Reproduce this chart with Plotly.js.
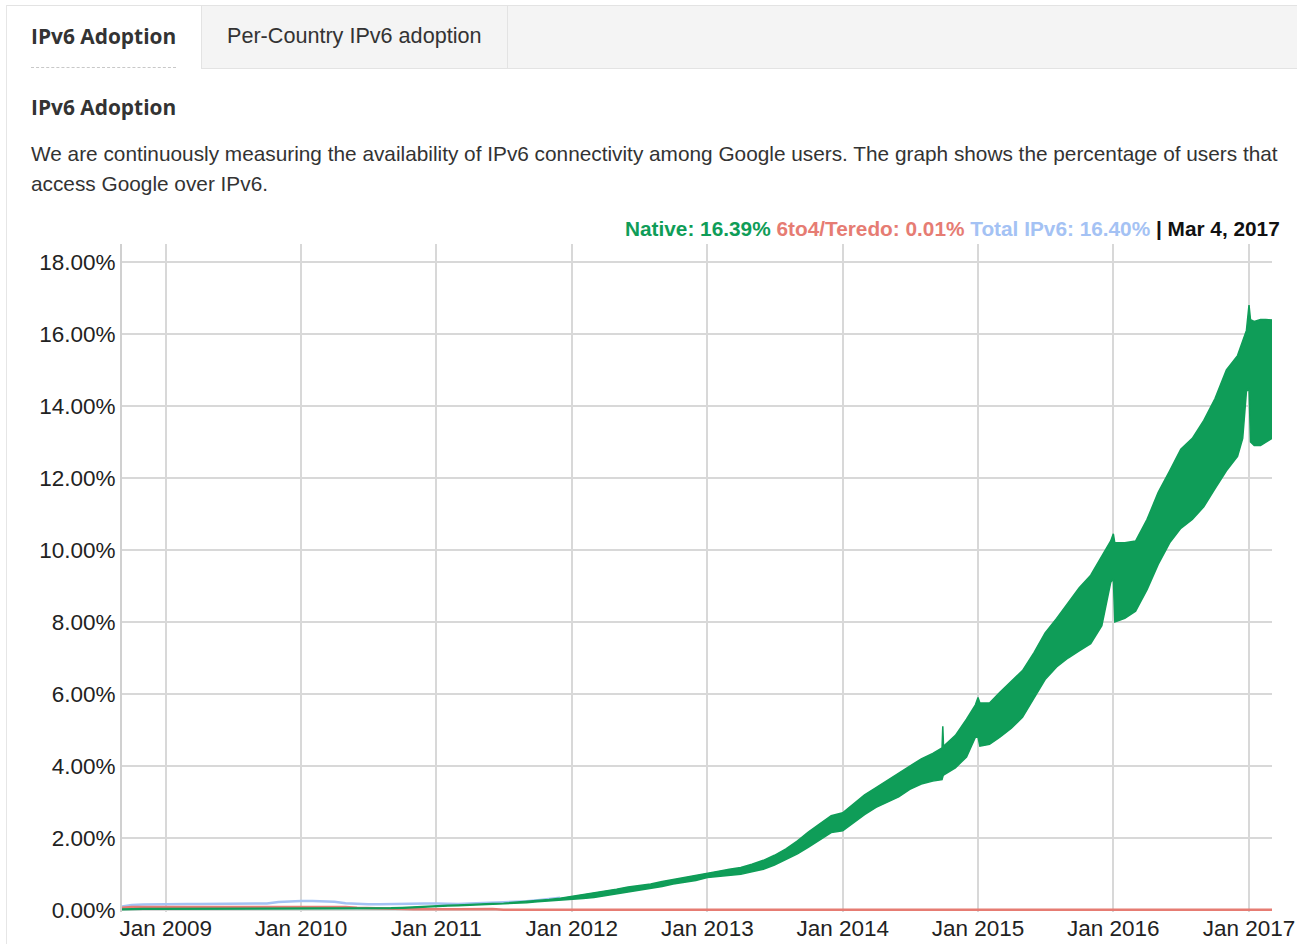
<!DOCTYPE html>
<html><head><meta charset="utf-8">
<script src="https://cdn.plot.ly/plotly-3.0.1.min.js"></script>
<style>
body{margin:0;width:1297px;height:944px;overflow:hidden;background:#fff;position:relative;font-family:"Liberation Sans",Arial,sans-serif;color:#333}
#chart{position:absolute;left:0;top:0;width:1297px;height:944px}
.abs{position:absolute}
.frame{left:6px;top:5px;height:939px;width:1px;background:#e6e6e6}
.tabbar{left:7px;top:5px;width:1290px;height:62px;background:#f4f4f4;border-top:1px solid #e3e3e3;border-bottom:1px solid #e3e3e3}
.tab1{left:7px;top:6px;width:194px;height:63px;background:#fff;border-right:1px solid #e3e3e3}
.tab2r{left:507px;top:6px;width:1px;height:62px;background:#e3e3e3}
.t1{left:31px;top:21px;line-height:30px;font-family:"Open Sans",sans-serif;font-weight:700;font-size:20.9px;color:#333;white-space:nowrap}
.t2{left:227px;top:21px;line-height:30px;font-size:21.6px;color:#333;white-space:nowrap}
.dash{left:31px;top:67px;width:145px;height:0;border-top:1px dashed #c8c8c8}
.h2{left:31px;top:92px;line-height:30px;font-family:"Open Sans",sans-serif;font-weight:700;font-size:20.9px;color:#333;white-space:nowrap}
.desc{left:31px;top:139px;line-height:30px;font-size:20.8px;color:#333;white-space:nowrap}
</style></head><body>
<div id="chart"></div>
<div class="abs frame"></div>
<div class="abs tabbar"></div>
<div class="abs tab1"></div>
<div class="abs tab2r"></div>
<div class="abs t1">IPv6 Adoption</div>
<div class="abs t2">Per-Country IPv6 adoption</div>
<div class="abs dash"></div>
<div class="abs h2">IPv6 Adoption</div>
<div class="abs desc">We are continuously measuring the availability of IPv6 connectivity among Google users. The graph shows the percentage of users that<br>access Google over IPv6.</div>
<script>
// Native IPv6 (weekday low / weekend high envelope), percent
const nativeDates = [
'2008-09-05','2008-10-01','2008-11-01','2008-12-01',
'2009-01-01','2009-02-01','2009-03-01','2009-04-01','2009-05-01','2009-06-01','2009-07-01','2009-08-01','2009-09-01','2009-10-01','2009-11-01','2009-12-01',
'2010-01-01','2010-02-01','2010-03-01','2010-04-01','2010-05-01','2010-06-01','2010-07-01','2010-08-01','2010-09-01','2010-10-01','2010-11-01','2010-12-01',
'2011-01-01','2011-02-01','2011-03-01','2011-04-01','2011-05-01','2011-06-01','2011-07-01','2011-08-01','2011-09-01','2011-10-01','2011-11-01','2011-12-01',
'2012-01-01','2012-02-01','2012-03-01','2012-04-01','2012-05-01','2012-06-01','2012-07-01','2012-08-01','2012-09-01','2012-10-01','2012-11-01','2012-12-01',
'2013-01-01','2013-02-01','2013-03-01','2013-04-01','2013-05-01','2013-06-01','2013-07-01','2013-08-01','2013-09-01','2013-10-01','2013-11-01','2013-12-01',
'2014-01-01','2014-02-01','2014-03-01','2014-04-01','2014-05-01','2014-06-01','2014-07-01','2014-08-01','2014-09-01','2014-09-26','2014-09-28','2014-09-30','2014-11-01','2014-12-01','2014-12-25',
'2015-01-01','2015-01-06','2015-02-01','2015-03-01','2015-04-01','2015-05-01','2015-06-01','2015-07-01','2015-08-01','2015-09-01','2015-10-01','2015-11-01','2015-12-01','2015-12-25',
'2016-01-01','2016-01-05','2016-02-01','2016-03-01','2016-04-01','2016-05-01','2016-06-01','2016-07-01','2016-08-01','2016-09-01','2016-10-01','2016-11-01','2016-12-01','2016-12-15','2016-12-25',
'2017-01-01','2017-01-05','2017-01-15','2017-02-01','2017-02-15','2017-03-04'
];
const nativeLow = [
0.01,0.02,0.02,0.02,
0.02,0.02,0.02,0.02,0.02,0.02,0.02,0.02,0.02,0.02,0.02,0.03,
0.03,0.03,0.03,0.03,0.03,0.03,0.03,0.03,0.04,0.05,0.07,0.09,
0.10,0.11,0.12,0.13,0.14,0.15,0.16,0.18,0.20,0.23,0.25,0.28,
0.30,0.32,0.35,0.40,0.45,0.50,0.55,0.60,0.65,0.72,0.77,0.82,
0.90,0.93,0.96,0.99,1.06,1.13,1.25,1.40,1.56,1.75,1.95,2.15,
2.20,2.45,2.65,2.85,3.00,3.14,3.35,3.50,3.58,3.62,3.70,3.75,3.95,4.25,4.80,
4.80,4.55,4.60,4.80,5.05,5.35,5.90,6.40,6.75,7.00,7.20,7.40,7.90,9.10,
9.20,8.00,8.10,8.30,8.90,9.60,10.20,10.60,10.85,11.20,11.70,12.20,12.60,13.10,14.40,
14.50,13.00,12.90,12.90,13.00,13.10
];
const nativeHigh = [
0.03,0.04,0.04,0.04,
0.04,0.04,0.04,0.04,0.04,0.04,0.04,0.04,0.04,0.04,0.05,0.05,
0.05,0.05,0.05,0.05,0.05,0.05,0.05,0.05,0.06,0.07,0.09,0.11,
0.12,0.13,0.14,0.16,0.17,0.18,0.19,0.21,0.23,0.26,0.29,0.33,
0.38,0.43,0.47,0.52,0.58,0.64,0.68,0.72,0.79,0.85,0.90,0.97,
1.03,1.08,1.13,1.18,1.27,1.38,1.52,1.70,1.92,2.17,2.40,2.62,
2.70,2.95,3.20,3.40,3.60,3.80,4.00,4.20,4.35,4.50,5.10,4.55,4.85,5.30,5.70,
5.90,5.75,5.75,6.05,6.35,6.65,7.15,7.70,8.10,8.55,8.95,9.30,9.85,10.25,
10.45,10.20,10.20,10.25,10.85,11.60,12.20,12.80,13.10,13.60,14.20,15.00,15.40,15.80,16.10,
16.80,16.40,16.35,16.40,16.40,16.39
];
// Total IPv6 (visible only early; later hidden under Native)
const totalDates = [
'2008-09-05','2008-10-01','2008-11-01','2008-12-01',
'2009-01-01','2009-02-01','2009-03-01','2009-04-01','2009-05-01','2009-06-01','2009-07-01','2009-08-01','2009-09-01','2009-10-01','2009-11-01','2009-12-01',
'2010-01-01','2010-02-01','2010-03-01','2010-04-01','2010-05-01','2010-06-01','2010-07-01','2010-08-01','2010-09-01','2010-10-01','2010-11-01','2010-12-01',
'2011-01-01','2011-02-01','2011-03-01','2011-04-01','2011-05-01','2011-06-01','2011-07-01','2011-08-01','2011-09-01','2011-10-01','2011-11-01','2011-12-01'
];
const totalVals = [
0.10,0.14,0.15,0.16,
0.16,0.17,0.17,0.17,0.17,0.17,0.17,0.17,0.17,0.18,0.22,0.24,
0.25,0.25,0.24,0.23,0.19,0.17,0.16,0.16,0.17,0.18,0.18,0.18,
0.18,0.17,0.17,0.18,0.19,0.20,0.20,0.22,0.24,0.27,0.30,0.34
];
// 6to4/Teredo
const teredoDates = [
'2008-09-05','2008-10-01','2009-01-01','2009-06-01','2009-12-01',
'2010-01-01','2010-04-01','2010-05-01','2010-06-01','2010-07-01','2010-08-01','2010-09-01','2010-10-01','2010-11-01',
'2011-03-01','2011-04-01','2011-06-01','2011-07-01','2012-01-01','2013-01-01','2014-01-01','2015-01-01','2016-01-01','2017-01-01','2017-03-04'
];
const teredoVals = [
0.06,0.08,0.08,0.08,0.08,
0.09,0.09,0.08,0.06,0.05,0.05,0.04,0.03,0.02,
0.02,0.03,0.03,0.01,0.01,0.01,0.01,0.01,0.01,0.01,0.01
];
const yTickVals = [0,2,4,6,8,10,12,14,16,18];
const yTickText = ['0.00%','2.00%','4.00%','6.00%','8.00%','10.00%','12.00%','14.00%','16.00%','18.00%'];
const xTickVals = ['2009-01-01','2010-01-01','2011-01-01','2012-01-01','2013-01-01','2014-01-01','2015-01-01','2016-01-01','2017-01-01'];
const xTickText = ['Jan 2009','Jan 2010','Jan 2011','Jan 2012','Jan 2013','Jan 2014','Jan 2015','Jan 2016','Jan 2017'];
const legendLabels = ['Native: 16.39%','6to4/Teredo: 0.01%','Total IPv6: 16.40%','Mar 4, 2017'];

const GREEN = '#0f9d58', RED = '#e67c73', BLUE = '#a4c2f4';

const traces = [
  {x: totalDates, y: totalVals, type:'scatter', mode:'lines', line:{color:BLUE, width:2.5}, hoverinfo:'skip'},
  {x: teredoDates, y: teredoVals, type:'scatter', mode:'lines', line:{color:RED, width:2.5}, hoverinfo:'skip'},
  {x: nativeDates, y: nativeLow, type:'scatter', mode:'lines', line:{color:GREEN, width:1.5}, hoverinfo:'skip'},
  {x: nativeDates, y: nativeHigh, type:'scatter', mode:'lines', fill:'tonexty', fillcolor:GREEN, line:{color:GREEN, width:1.5}, hoverinfo:'skip'}
];

const tickFont = {family:'"Liberation Sans", Arial, sans-serif', size:22.5, color:'#222'};
const layout = {
  width:1297, height:944,
  margin:{l:122, r:25, t:244, b:32, pad:0},
  paper_bgcolor:'rgba(0,0,0,0)', plot_bgcolor:'#fff',
  showlegend:false,
  xaxis:{type:'date', range:['2008-09-05','2017-03-04'], tickvals:xTickVals, ticktext:xTickText,
    showgrid:true, gridcolor:'#d8d8d8', gridwidth:2, zeroline:false, showline:false, ticks:'',
    tickfont:tickFont, ticklabelstandoff:0, ticklabeloverflow:'allow'},
  yaxis:{range:[-0.0556, 18.5], tickvals:yTickVals, ticktext:yTickText,
    showgrid:true, gridcolor:'#d8d8d8', gridwidth:2, zeroline:false, showline:true, linecolor:'#d0d0d0', linewidth:2,
    ticks:'', tickfont:tickFont, ticklabelstandoff:0},
  annotations:[{
    xref:'paper', yref:'paper', x:1, y:1, xanchor:'right', yanchor:'bottom', xshift:10, yshift:2, showarrow:false,
    font:{family:'"Liberation Sans", Arial, sans-serif', size:20.8, color:'#111'},
    text:'<b><span style="color:'+GREEN+'">'+legendLabels[0]+'</span> <span style="color:'+RED+'">'+legendLabels[1]+'</span> <span style="color:'+BLUE+'">'+legendLabels[2]+'</span> | '+legendLabels[3]+'</b>'
  }]
};
Plotly.newPlot('chart', traces, layout, {displayModeBar:false, staticPlot:true});
</script>
</body></html>
